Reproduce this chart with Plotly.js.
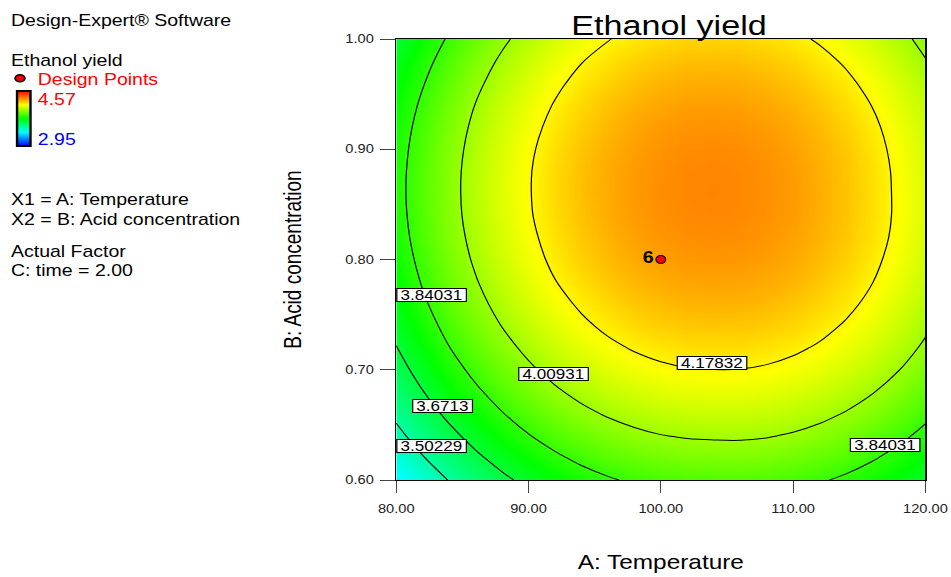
<!DOCTYPE html>
<html><head><meta charset="utf-8">
<script src="https://cdn.plot.ly/plotly-3.0.1.min.js"></script>
<style>
html,body{margin:0;padding:0;background:#fff;overflow:hidden;}
#wrap{width:951px;height:577px;overflow:hidden;}
#chart{width:780px;height:577px;transform:scaleX(1.219231);transform-origin:0 0;}
</style></head><body><div id="wrap"><div id="chart"></div></div>
<script>
// ---------------- data ----------------
const temperature = [80, 82, 84, 86, 88, 90, 92, 94, 96, 98, 100, 102, 104, 106, 108, 110, 112, 114, 116, 118, 120];
const acidConcentration = [0.60, 0.62, 0.64, 0.66, 0.68, 0.70, 0.72, 0.74, 0.76, 0.78, 0.80,
  0.82, 0.84, 0.86, 0.88, 0.90, 0.92, 0.94, 0.96, 0.98, 1.00];
const ethanolYield = [
  [3.338, 3.426, 3.507, 3.580, 3.646, 3.703, 3.753, 3.795, 3.829, 3.856, 3.874, 3.885, 3.889, 3.891, 3.885, 3.872, 3.851, 3.822, 3.785, 3.740, 3.688],
  [3.406, 3.495, 3.576, 3.649, 3.714, 3.772, 3.821, 3.864, 3.898, 3.924, 3.943, 3.954, 3.958, 3.959, 3.953, 3.939, 3.917, 3.888, 3.850, 3.805, 3.752],
  [3.469, 3.558, 3.639, 3.712, 3.777, 3.835, 3.885, 3.927, 3.961, 3.987, 4.006, 4.017, 4.021, 4.022, 4.015, 4.000, 3.978, 3.948, 3.910, 3.865, 3.811],
  [3.527, 3.616, 3.697, 3.770, 3.835, 3.893, 3.942, 3.985, 4.019, 4.045, 4.064, 4.075, 4.079, 4.079, 4.072, 4.057, 4.034, 4.003, 3.965, 3.919, 3.865],
  [3.580, 3.668, 3.749, 3.822, 3.887, 3.945, 3.995, 4.037, 4.071, 4.097, 4.116, 4.127, 4.131, 4.131, 4.123, 4.107, 4.084, 4.053, 4.014, 3.968, 3.913],
  [3.626, 3.715, 3.796, 3.869, 3.934, 3.992, 4.042, 4.084, 4.118, 4.144, 4.163, 4.174, 4.178, 4.177, 4.169, 4.153, 4.129, 4.098, 4.058, 4.011, 3.956],
  [3.668, 3.757, 3.838, 3.911, 3.976, 4.033, 4.083, 4.125, 4.160, 4.186, 4.205, 4.216, 4.219, 4.218, 4.209, 4.193, 4.169, 4.137, 4.097, 4.049, 3.994],
  [3.704, 3.793, 3.874, 3.947, 4.012, 4.070, 4.119, 4.162, 4.196, 4.222, 4.241, 4.252, 4.255, 4.254, 4.245, 4.228, 4.203, 4.170, 4.130, 4.082, 4.026],
  [3.735, 3.824, 3.905, 3.978, 4.043, 4.101, 4.150, 4.192, 4.227, 4.253, 4.272, 4.283, 4.286, 4.284, 4.274, 4.257, 4.232, 4.199, 4.158, 4.109, 4.053],
  [3.760, 3.849, 3.930, 4.003, 4.068, 4.126, 4.176, 4.218, 4.252, 4.278, 4.297, 4.308, 4.312, 4.309, 4.299, 4.281, 4.255, 4.221, 4.180, 4.131, 4.074],
  [3.780, 3.869, 3.950, 4.023, 4.088, 4.146, 4.196, 4.238, 4.272, 4.298, 4.317, 4.328, 4.331, 4.328, 4.318, 4.299, 4.273, 4.239, 4.197, 4.147, 4.090],
  [3.795, 3.884, 3.964, 4.038, 4.103, 4.160, 4.210, 4.252, 4.286, 4.313, 4.332, 4.343, 4.346, 4.343, 4.331, 4.312, 4.285, 4.251, 4.209, 4.159, 4.101],
  [3.804, 3.893, 3.974, 4.047, 4.112, 4.170, 4.219, 4.261, 4.296, 4.322, 4.341, 4.352, 4.355, 4.351, 4.339, 4.320, 4.293, 4.258, 4.215, 4.164, 4.106],
  [3.808, 3.897, 3.977, 4.051, 4.116, 4.173, 4.223, 4.265, 4.299, 4.326, 4.345, 4.356, 4.359, 4.354, 4.342, 4.322, 4.294, 4.259, 4.215, 4.164, 4.105],
  [3.806, 3.895, 3.976, 4.049, 4.114, 4.172, 4.222, 4.264, 4.298, 4.324, 4.343, 4.354, 4.357, 4.353, 4.340, 4.320, 4.292, 4.257, 4.213, 4.162, 4.103],
  [3.799, 3.888, 3.969, 4.042, 4.107, 4.165, 4.215, 4.257, 4.291, 4.317, 4.336, 4.347, 4.350, 4.346, 4.333, 4.313, 4.285, 4.250, 4.206, 4.155, 4.096],
  [3.787, 3.876, 3.956, 4.030, 4.095, 4.152, 4.202, 4.244, 4.278, 4.305, 4.324, 4.335, 4.338, 4.333, 4.321, 4.301, 4.273, 4.237, 4.194, 4.143, 4.084],
  [3.769, 3.858, 3.939, 4.012, 4.077, 4.135, 4.184, 4.226, 4.261, 4.287, 4.306, 4.317, 4.320, 4.315, 4.303, 4.283, 4.255, 4.219, 4.176, 4.125, 4.066],
  [3.746, 3.834, 3.915, 3.988, 4.054, 4.111, 4.161, 4.203, 4.237, 4.264, 4.283, 4.294, 4.297, 4.292, 4.280, 4.260, 4.232, 4.196, 4.153, 4.102, 4.043],
  [3.717, 3.806, 3.887, 3.960, 4.025, 4.083, 4.133, 4.175, 4.209, 4.235, 4.254, 4.265, 4.268, 4.264, 4.251, 4.231, 4.203, 4.168, 4.124, 4.073, 4.014],
  [3.683, 3.772, 3.853, 3.926, 3.991, 4.049, 4.098, 4.140, 4.175, 4.201, 4.220, 4.231, 4.234, 4.230, 4.217, 4.197, 4.169, 4.133, 4.090, 4.039, 3.980]
];
const contourLevels = [3.50229, 3.6713, 3.84031, 4.00931, 4.17832];
const contourLabelText = ['3.84031', '4.00931', '3.6713', '3.50229', '4.17832', '3.84031'];
const designPointTemperature = [100];
const designPointAcid = [0.80];
const designPointLabels = ['6'];
const colorRange = [2.95, 4.57];
const xTickValues = [80, 90, 100, 110, 120];
const xTickLabels = ['80.00', '90.00', '100.00', '110.00', '120.00'];
const yTickValues = [0.60, 0.70, 0.80, 0.90, 1.00];
const yTickLabels = ['0.60', '0.70', '0.80', '0.90', '1.00'];
const infoLines = ['Design-Expert® Software', 'Ethanol yield', 'Design Points',
  colorRange[1].toFixed(2), colorRange[0].toFixed(2),
  'X1 = A: Temperature', 'X2 = B: Acid concentration', 'Actual Factor', 'C: time = 2.00'];

// ---------------- layout geometry & styles ----------------
const FONT = 'Liberation Sans, Arial, sans-serif';
const L = 325, TOP = 39, PW = 434, PH = 441, FW = 780, FH = 577;
const pxX = u => (u - L) / PW;
const pxY = v => (TOP + PH - v) / PH;

// contour label anchor positions (data coords) for each entry of contourLabelText
const labelPos = [[82.68, 0.7678], [91.87, 0.6957], [83.46, 0.6668], [82.70, 0.6311], [103.89, 0.7061], [116.92, 0.6315]];
// left info panel: [x px, y px (middle), color]
const infoPos = [[6.5, 21, '#000'], [6.5, 60, '#000'], [28.5, 79, '#ff0000'], [28.5, 99, '#ff0000'],
  [28.5, 139, '#0000ff'], [6.5, 199, '#000'], [6.5, 219, '#000'], [6.5, 251, '#000'], [6.5, 270, '#000']];

const colorscale = [[0, '#0000ff'], [0.25, '#00ffff'], [0.5, '#00ff00'], [0.75, '#ffff00'], [1, '#ff0000']];

const traces = [
  {
    type: 'heatmap', x: temperature, y: acidConcentration, z: ethanolYield,
    zmin: colorRange[0], zmax: colorRange[1], colorscale: colorscale, zsmooth: 'best',
    hoverinfo: 'skip',
    colorbar: {
      x: pxX(13.7), xanchor: 'left', xref: 'paper', y: pxY(118.3), yanchor: 'middle', yref: 'paper',
      len: 55, lenmode: 'pixels', thickness: 11, outlinewidth: 2, outlinecolor: '#000',
      xpad: 0, ypad: 0, showticklabels: false, ticks: ''
    }
  },
  {
    type: 'contour', x: temperature, y: acidConcentration, z: ethanolYield,
    contours: {
      start: contourLevels[0], end: contourLevels[contourLevels.length - 1] + 0.0005,
      size: (contourLevels[contourLevels.length - 1] - contourLevels[0]) / (contourLevels.length - 1),
      coloring: 'none', showlabels: false
    },
    line: {color: '#000', width: 1, smoothing: 1},
    showscale: false, hoverinfo: 'skip'
  },
  {
    type: 'scatter', mode: 'markers+text', x: designPointTemperature, y: designPointAcid,
    text: designPointLabels, textposition: 'middle left',
    textfont: {family: FONT, size: 16, color: '#000', weight: 'bold'},
    marker: {size: 8, color: '#ff0000', line: {color: '#000', width: 1}},
    cliponaxis: false, hoverinfo: 'skip', showlegend: false
  }
];

const annotations = [];
contourLabelText.forEach((t, i) => {
  annotations.push({
    x: labelPos[i][0], y: labelPos[i][1], xref: 'x', yref: 'y', text: t, showarrow: false,
    font: {family: FONT, size: 14, color: '#000'},
    bgcolor: '#fff', bordercolor: '#000', borderwidth: 1, borderpad: 0,
    width: t.length * 8, height: 12, xanchor: 'center', yanchor: 'middle'
  });
});
infoLines.forEach((t, i) => {
  annotations.push({
    x: pxX(infoPos[i][0]), y: pxY(infoPos[i][1]), xref: 'paper', yref: 'paper', text: t,
    showarrow: false, xanchor: 'left', yanchor: 'middle', align: 'left',
    font: {family: FONT, size: 16, color: infoPos[i][2]}
  });
});

const axisCommon = {
  ticks: 'outside', ticklen: 12, tickwidth: 1, tickcolor: '#444',
  tickfont: {family: FONT, size: 12, color: '#222'},
  showline: true, linecolor: '#000', linewidth: 1, mirror: true,
  showgrid: false, zeroline: false, fixedrange: true
};

const layout = {
  width: FW, height: FH,
  margin: {l: L, r: FW - L - PW, t: TOP, b: FH - TOP - PH, pad: 0},
  paper_bgcolor: '#fff', plot_bgcolor: '#fff',
  font: {family: FONT, color: '#000'},
  showlegend: false,
  title: {
    text: 'Ethanol yield', x: pxX(548.7), xanchor: 'center', xref: 'paper',
    y: 1, yref: 'paper', yanchor: 'bottom', pad: {b: 4},
    font: {family: FONT, size: 28, color: '#000'}
  },
  xaxis: Object.assign({}, axisCommon, {
    range: [80, 120], tickvals: xTickValues, ticktext: xTickLabels, ticklabelstandoff: 6,
    title: {text: 'A: Temperature', font: {family: FONT, size: 20, color: '#000'}, standoff: 39}
  }),
  yaxis: Object.assign({}, axisCommon, {
    range: [0.6, 1.0], tickvals: yTickValues, ticktext: yTickLabels, ticklabelstandoff: 3,
    title: {text: 'B: Acid concentration', font: {family: FONT, size: 19, color: '#000'}, standoff: 30}
  }),
  shapes: [{
    type: 'circle', xref: 'paper', yref: 'paper',
    x0: pxX(12.4), x1: pxX(20.4), y0: pxY(81.8), y1: pxY(74.8),
    fillcolor: '#ff0000', line: {color: '#000', width: 1.5}
  }],
  annotations: annotations
};

Plotly.newPlot('chart', traces, layout, {displayModeBar: false, staticPlot: true});
</script></body></html>
